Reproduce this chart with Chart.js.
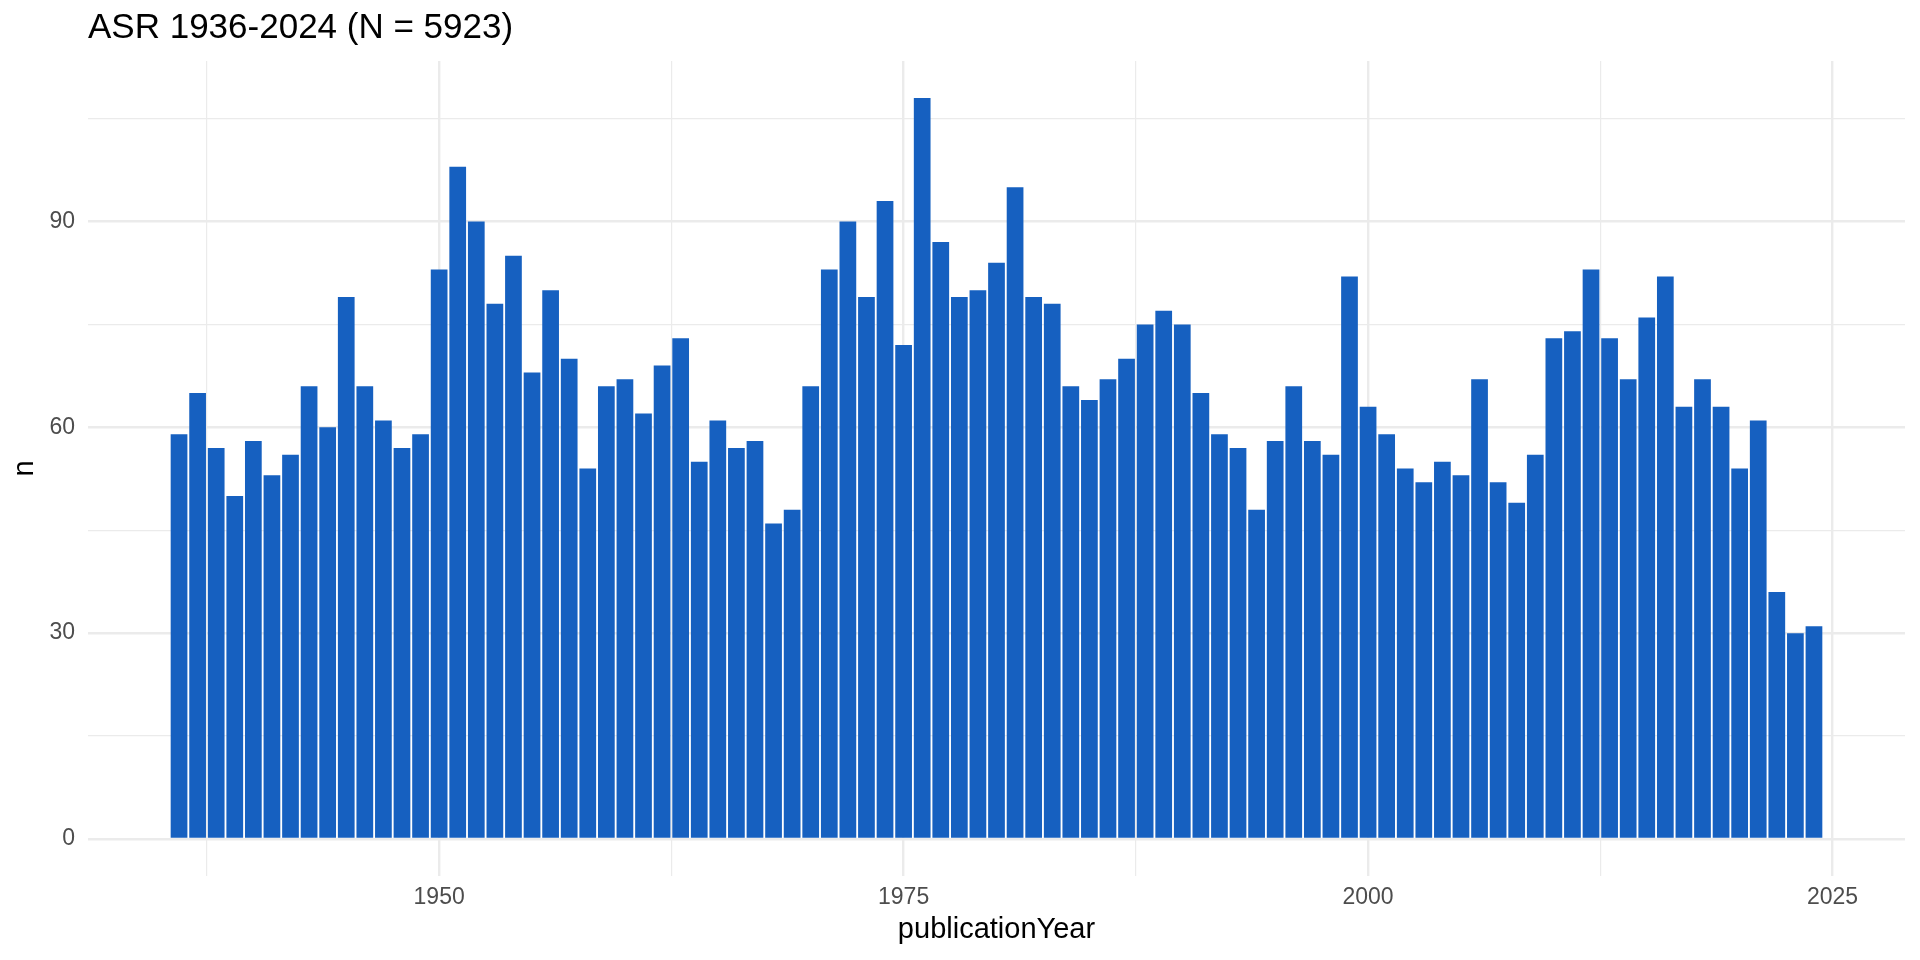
<!DOCTYPE html>
<html>
<head>
<meta charset="utf-8">
<script src="https://cdn.jsdelivr.net/npm/chart.js@4"></script>
<style>
html, body { margin: 0; padding: 0; background: #ffffff; }
#wrap { width: 1920px; height: 960px; }
</style>
</head>
<body>
<div id="wrap"><canvas id="c" width="1920" height="960"></canvas></div>
<script>
const years = [
  1936, 1937, 1938, 1939, 1940, 1941, 1942, 1943, 1944, 1945,
  1946, 1947, 1948, 1949, 1950, 1951, 1952, 1953, 1954, 1955,
  1956, 1957, 1958, 1959, 1960, 1961, 1962, 1963, 1964, 1965,
  1966, 1967, 1968, 1969, 1970, 1971, 1972, 1973, 1974, 1975,
  1976, 1977, 1978, 1979, 1980, 1981, 1982, 1983, 1984, 1985,
  1986, 1987, 1988, 1989, 1990, 1991, 1992, 1993, 1994, 1995,
  1996, 1997, 1998, 1999, 2000, 2001, 2002, 2003, 2004, 2005,
  2006, 2007, 2008, 2009, 2010, 2011, 2012, 2013, 2014, 2015,
  2016, 2017, 2018, 2019, 2020, 2021, 2022, 2023, 2024
];
const counts = [
  59, 65, 57, 50, 58, 53, 56, 66, 60, 79,
  66, 61, 57, 59, 83, 98, 90, 78, 85, 68,
  80, 70, 54, 66, 67, 62, 69, 73, 55, 61,
  57, 58, 46, 48, 66, 83, 90, 79, 93, 72,
  108, 87, 79, 80, 84, 95, 79, 78, 66, 64,
  67, 70, 75, 77, 75, 65, 59, 57, 48, 58,
  66, 58, 56, 82, 63, 59, 54, 52, 55, 53,
  67, 52, 49, 56, 73, 74, 83, 73, 67, 76,
  82, 63, 67, 63, 54, 61, 36, 30, 31
];
const xMajorTicks = [1950, 1975, 2000, 2025];
const xMinorTicks = [1937.5, 1962.5, 1987.5, 2012.5];
const yMajorTicks = [0, 30, 60, 90];
const yMinorTicks = [15, 45, 75, 105];
const chartTitle = 'ASR 1936-2024 (N = 5923)';
const xTitle = 'publicationYear';
const yTitle = 'n';

const FONT = "'Liberation Sans', Arial, Helvetica, sans-serif";
const isMajor = (v, majors) => majors.some(m => Math.abs(m - v) < 1e-6);
const tickList = (a, b) => [...a, ...b].sort((p, q) => p - q).map(v => ({ value: v }));

new Chart(document.getElementById('c'), {
  type: 'bar',
  data: {
    datasets: [{
      data: years.map((yr, i) => ({ x: yr, y: counts[i] })),
      backgroundColor: '#1660C0',
      borderWidth: 0,
      barPercentage: 0.9,
      categoryPercentage: 1.0
    }]
  },
  options: {
    responsive: false,
    animation: false,
    devicePixelRatio: 1,
    layout: { padding: { left: 0, right: 15, top: 0, bottom: 0 } },
    plugins: {
      legend: { display: false },
      tooltip: { enabled: false },
      title: {
        display: true,
        text: chartTitle,
        align: 'start',
        fullSize: false,
        color: '#000000',
        font: { family: FONT, size: 35, weight: 'normal', lineHeight: 1.2 },
        padding: { top: 6.9, bottom: 12.1 }
      }
    },
    scales: {
      x: {
        type: 'linear',
        min: 1931.1,
        max: 2028.9,
        offset: false,
        afterBuildTicks: s => { s.ticks = tickList(xMinorTicks, xMajorTicks); },
        afterFit: s => { s.height = 84; },
        ticks: {
          autoSkip: false,
          maxRotation: 0,
          padding: 8,
          color: '#4D4D4D',
          font: { family: FONT, size: 23, lineHeight: 1.2 },
          callback: v => isMajor(v, xMajorTicks) ? String(v) : ''
        },
        grid: {
          offset: false,
          drawTicks: false,
          color: '#EBEBEB',
          lineWidth: c => (c.tick && isMajor(c.tick.value, xMajorTicks)) ? 2.4 : 1.2
        },
        border: { display: false },
        title: {
          display: true,
          text: xTitle,
          color: '#000000',
          font: { family: FONT, size: 29, lineHeight: 1.2 },
          padding: { top: 0, bottom: 12.6 }
        }
      },
      y: {
        type: 'linear',
        min: -5.4,
        max: 113.4,
        afterBuildTicks: s => { s.ticks = tickList(yMinorTicks, yMajorTicks); },
        afterFit: s => { s.width = 88; },
        ticks: {
          autoSkip: false,
          padding: 13,
          color: '#4D4D4D',
          font: { family: FONT, size: 23, lineHeight: 1.2 },
          callback: v => isMajor(v, yMajorTicks) ? String(v) : ''
        },
        grid: {
          drawTicks: false,
          color: '#EBEBEB',
          lineWidth: c => (c.tick && isMajor(c.tick.value, yMajorTicks)) ? 2.4 : 1.2
        },
        border: { display: false },
        title: {
          display: true,
          text: yTitle,
          color: '#000000',
          font: { family: FONT, size: 29, lineHeight: 1.2 },
          padding: { top: 8, bottom: 0 }
        }
      }
    }
  }
});
</script>
</body>
</html>
